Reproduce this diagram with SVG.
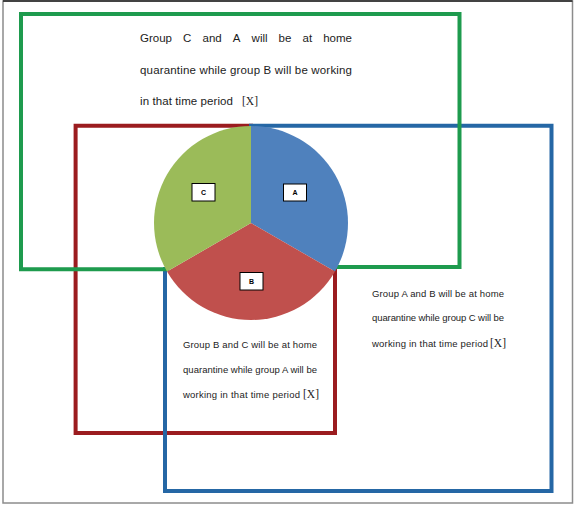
<svg xmlns="http://www.w3.org/2000/svg" width="580" height="509" viewBox="0 0 580 509">
<style>
.frame{fill:none;stroke:#8c8c8c;stroke-width:1.5}
.edge{fill:none;stroke-width:4;stroke-linejoin:miter;stroke-linecap:square}
.t{font-family:"Liberation Sans",Arial,sans-serif;fill:#1c1c1c}
.top{font-size:11.5px}
.sm{font-size:9.5px}
.x{font-family:"Liberation Serif","Times New Roman",serif;font-size:11.5px;fill:#1c1c1c}
.lbl{fill:#ffffff;stroke:#000000;stroke-width:1}
.lt{font-family:"Liberation Sans",Arial,sans-serif;font-size:7px;font-weight:bold;fill:#000;text-anchor:middle}
</style>
<rect width="580" height="509" fill="#ffffff"/>
<rect class="frame" x="3" y="1" width="569.5" height="502"/>
<line x1="3" y1="1" x2="572.5" y2="1" stroke="#222" stroke-width="1.5"/>
<g id="connectors">
  <path id="red-region" class="edge" stroke="#9b1c1f" d="M251,125.8 H75.6 V433 H335 V267"/>
  <path id="blue-region" class="edge" stroke="#2567a5" d="M251,125.8 H551.5 V491 H165 V269"/>
  <path id="green-region" class="edge" stroke="#1e9b4e" d="M167,269.3 H21 V14 H459.5 V267 H333"/>
</g>
<g id="pie">
  <path id="sector-A" fill="#4f81bd" d="M251,223 V126 A97,97 0 0 1 335,271.5 Z"/>
  <path id="sector-B" fill="#c0504d" d="M251,223 L335,271.5 A97,97 0 0 1 167,271.5 Z"/>
  <path id="sector-C" fill="#9bbb59" d="M251,223 L167,271.5 A97,97 0 0 1 251,126 Z"/>
</g>
<g id="label-C"><rect class="lbl" x="192" y="183.5" width="23" height="17.5"/><text class="lt" x="203.5" y="194.8">C</text></g>
<g id="label-A"><rect class="lbl" x="283.5" y="184" width="23" height="17"/><text class="lt" x="295" y="195">A</text></g>
<g id="label-B"><rect class="lbl" x="240" y="272.5" width="23" height="17.5"/><text class="lt" x="251.5" y="283.8">B</text></g>
<g id="text-X-top">
  <text class="t top" y="42"><tspan x="140">Group</tspan><tspan x="183.1">C</tspan><tspan x="202.5">and</tspan><tspan x="232.8">A</tspan><tspan x="251.6">will</tspan><tspan x="278.6">be</tspan><tspan x="302.5">at</tspan><tspan x="323.2">home</tspan></text>
  <text class="t top" x="140" y="74" textLength="212" lengthAdjust="spacing">quarantine while group B will be working</text>
  <text class="t top" x="140" y="105" textLength="93" lengthAdjust="spacing">in that time period</text>
  <text class="x" x="242" y="105">[X]</text>
</g>
<g id="text-BC">
  <text class="t sm" x="183" y="348" textLength="134" lengthAdjust="spacing">Group B and C will be at home</text>
  <text class="t sm" x="183" y="372.5" textLength="134" lengthAdjust="spacing">quarantine while group A will be</text>
  <text class="t sm" x="183" y="398" textLength="117" lengthAdjust="spacing">working in that time period</text>
  <text class="x" x="303" y="398">[X]</text>
</g>
<g id="text-AB">
  <text class="t sm" x="372" y="296.5" textLength="132" lengthAdjust="spacing">Group A and B will be at home</text>
  <text class="t sm" x="372" y="321" textLength="132" lengthAdjust="spacing">quarantine while group C will be</text>
  <text class="t sm" x="372" y="346.5" textLength="116" lengthAdjust="spacing">working in that time period</text>
  <text class="x" x="490" y="346.5">[X]</text>
</g>
</svg>
